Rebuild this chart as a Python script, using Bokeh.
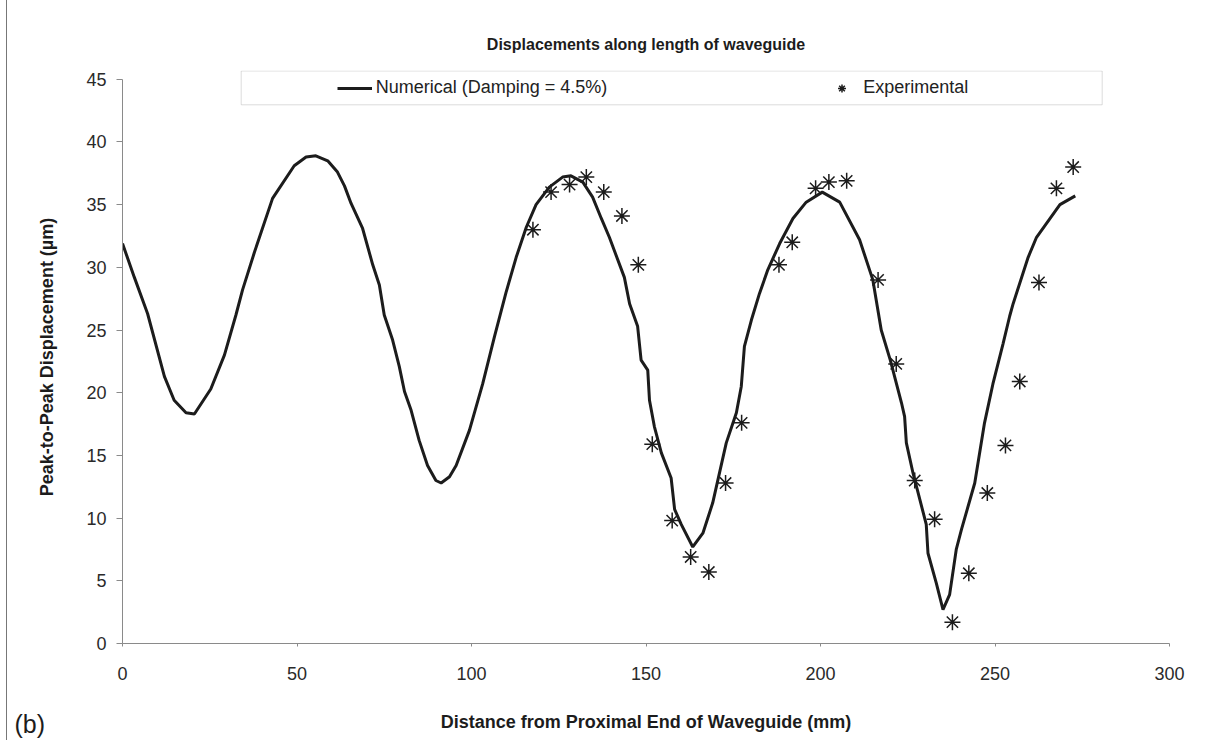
from bokeh.plotting import figure
from bokeh.models import (Range1d, FixedTicker, Legend, LegendItem,
                          BoxAnnotation, Label)
from bokeh.embed import file_html
from bokeh.resources import INLINE

# ---------------- data ----------------
num_x = [0, 3.4, 7.2, 12, 14.8, 18.2, 20.6, 25.3, 29.2, 32.5, 34.4, 37.8, 43,
         49.2, 52.6, 55.4, 58.8, 61.6, 63.6, 65.5, 68.8, 71.7, 73.6, 75, 77.4,
         79.3, 80.8, 82.7, 85, 87.4, 89.8, 91.3, 93.7, 95.6, 99.4, 103.2, 106.6,
         109.9, 112.8, 115.7, 118.5, 122.3, 126.1, 128.5, 131.9, 134.7, 137.2,
         139.5, 143.8, 145.3, 147.6, 148.6, 150.5, 151, 152.4, 154.4, 157.2,
         158.2, 160.1, 163.4, 166.3, 169.1, 173, 175.9, 177.3, 178.2, 180.2,
         182.5, 184.9, 188.3, 192.1, 195.9, 200.5, 205.5, 211.2, 215, 217.4,
         220, 223.2, 224.1, 224.6, 226.5, 230.3, 230.8, 233.2, 235.1, 237,
         238.9, 240.4, 244.2, 247, 249.4, 252.3, 254.2, 255.2, 259.5, 261.9,
         268.6, 273]
num_y = [31.9, 29.2, 26.3, 21.3, 19.4, 18.4, 18.3, 20.3, 23, 26.2, 28.2, 31.2,
         35.5, 38.1, 38.8, 38.9, 38.5, 37.6, 36.5, 35.1, 33.1, 30.2, 28.6, 26.2,
         24.2, 22.1, 20.1, 18.6, 16.2, 14.2, 13, 12.8, 13.3, 14.2, 17, 20.7,
         24.5, 28, 30.8, 33.2, 35, 36.4, 37.2, 37.3, 36.8, 35.6, 33.9, 32.4,
         29.2, 27.1, 25.3, 22.6, 21.8, 19.4, 17.3, 15.2, 13.2, 10.7, 9.5, 7.7,
         8.8, 11.2, 16, 18.4, 20.5, 23.7, 25.8, 27.9, 29.8, 31.9, 33.9, 35.2,
         36, 35.2, 32.2, 29, 25, 22.6, 19.2, 18.1, 16, 13.6, 9.5, 7.2, 4.8, 2.7,
         3.9, 7.5, 9.1, 12.8, 17.6, 20.7, 23.9, 26.1, 27.1, 30.8, 32.4, 35,
         35.7]

exp_x = [117.6, 122.8, 128.1, 132.9, 137.9, 143.1, 147.8, 151.8, 157.5, 162.8,
         168, 172.8, 177.4, 188.1, 191.9, 198.6, 202.4, 207.5, 216.5, 221.7,
         227, 232.7, 237.8, 242.5, 247.8, 253, 257.1, 262.6, 267.6, 272.4]
exp_y = [33, 36, 36.6, 37.2, 36, 34.1, 30.2, 15.9, 9.8, 6.9, 5.7, 12.8, 17.6,
         30.2, 32, 36.3, 36.8, 36.9, 29, 22.3, 13, 9.9, 1.7, 5.6, 12, 15.8,
         20.9, 28.8, 36.3, 38]

x_ticks = [0, 50, 100, 150, 200, 250, 300]
y_ticks = [0, 5, 10, 15, 20, 25, 30, 35, 40, 45]

title_text = "Displacements along length of waveguide"
x_label = "Distance from Proximal End of Waveguide (mm)"
y_label = "Peak-to-Peak Displacement (\u00b5m)"
num_label = "Numerical (Damping = 4.5%)"
exp_label = "Experimental"
tag_text = "(b)"

FONT = "Liberation Sans"
INK = "#1c1c1c"
AXIS = "#8a8a8a"

p = figure(width=1196, height=740, output_backend="svg", toolbar_location=None,
           x_range=Range1d(0, 300), y_range=Range1d(0, 45.7),
           min_border_left=115, min_border_right=34, min_border_top=70,
           min_border_bottom=97)
p.styles = {"margin-left": "6px", "border-left": "1px solid #777777"}
p.outline_line_color = None
p.xgrid.visible = False
p.ygrid.visible = False
p.background_fill_color = "white"
p.border_fill_color = "white"

p.title.text = title_text
p.title.align = "center"
p.title.text_font = FONT
p.title.text_font_size = "16px"
p.title.text_font_style = "bold"
p.title.text_color = INK
p.title.standoff = 36

p.xaxis.ticker = FixedTicker(ticks=x_ticks)
p.yaxis.ticker = FixedTicker(ticks=y_ticks)
p.yaxis.bounds = (0, 45)
p.xaxis.axis_label = x_label
p.yaxis.axis_label = y_label
for ax in (p.xaxis[0], p.yaxis[0]):
    ax.axis_line_color = AXIS
    ax.major_tick_line_color = AXIS
    ax.minor_tick_line_color = None
    ax.major_tick_in = 0
    ax.major_label_text_font = FONT
    ax.major_label_text_font_size = "18px"
    ax.major_label_text_color = "#2a2a2a"
    ax.axis_label_text_font = FONT
    ax.axis_label_text_font_size = "18px"
    ax.axis_label_text_font_style = "bold"
    ax.axis_label_text_color = INK
p.yaxis.major_tick_out = 6
p.yaxis.major_label_standoff = 10
p.yaxis.axis_label_standoff = 26
p.xaxis.major_tick_out = 3
p.xaxis.major_label_standoff = 20
p.xaxis.axis_label_standoff = 29

line_r = p.line(num_x, num_y, line_color=INK, line_width=3)
exp_r = p.scatter(exp_x, exp_y, marker="asterisk", size=16,
                  line_color=INK, line_width=1.5)

legend = Legend(items=[LegendItem(label=num_label, renderers=[line_r]),
                       LegendItem(label=exp_label, renderers=[exp_r])],
                orientation="horizontal", location=(214.7, 544.7), padding=5,
                spacing=217, glyph_width=35, glyph_height=20, label_standoff=4,
                label_height=20, label_text_font=FONT,
                label_text_font_size="18px", label_text_color="#222222",
                border_line_color=None, background_fill_alpha=0)
p.add_layout(legend)

# legend frame
p.add_layout(BoxAnnotation(left=118.7, right=979.7, bottom=538.7, top=572.5,
                           left_units="screen", right_units="screen",
                           bottom_units="screen", top_units="screen",
                           fill_alpha=0, line_color=AXIS, line_width=1))
# panel tag (in a side panel so it is not clipped to the frame)
p.add_layout(Label(x=6, y=723, x_units="canvas", y_units="canvas", text=tag_text,
                   text_font=FONT, text_font_size="25px", text_color=INK,
                   text_baseline="alphabetic"), "right")

open("out.html", "w").write(file_html(p, INLINE))
